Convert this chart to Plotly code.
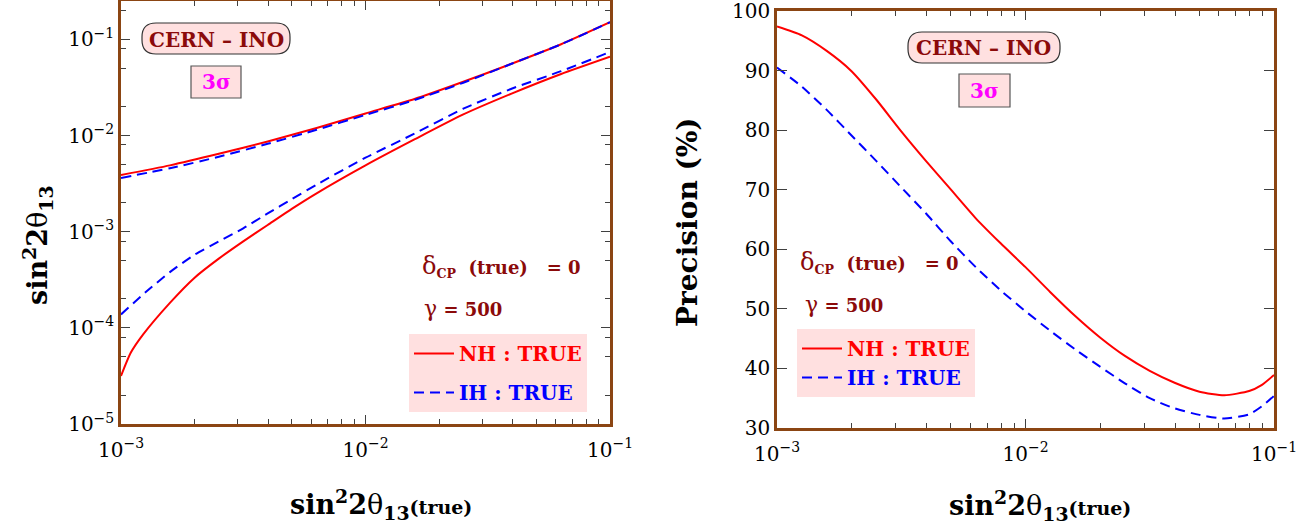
import plotly.graph_objects as go

# ---------------- data ----------------
# Left panel: 3-sigma allowed range of sin^2(2theta13) vs true value
x_upper = [0.001, 0.001585, 0.002512, 0.003981, 0.00631, 0.01, 0.01585, 0.02512, 0.03981, 0.0631, 0.1]
nh_upper = [0.00389, 0.0049, 0.00646, 0.0087, 0.0120, 0.0170, 0.0240, 0.0363, 0.0562, 0.0891, 0.151]
ih_upper = [0.00363, 0.00457, 0.00603, 0.00822, 0.01148, 0.0164, 0.0234, 0.0355, 0.0562, 0.0891, 0.151]

x_nh_lower = [0.001, 0.001096, 0.00123, 0.001585, 0.001995, 0.002512, 0.003162, 0.003981, 0.005012,
              0.00631, 0.01, 0.01585, 0.02512, 0.03981, 0.0631, 0.1]
nh_lower = [3.16e-5, 5.5e-5, 8.5e-5, 1.82e-4, 3.31e-4, 5.25e-4, 7.94e-4, 1.175e-3, 1.74e-3,
            2.51e-3, 4.90e-3, 9.12e-3, 1.66e-2, 2.75e-2, 4.37e-2, 6.61e-2]

x_ih_lower = [0.001, 0.001259, 0.001585, 0.001995, 0.002512, 0.003162, 0.003981, 0.005012, 0.00631,
              0.01, 0.01585, 0.02512, 0.03981, 0.0631, 0.1]
ih_lower = [1.38e-4, 2.34e-4, 3.80e-4, 5.75e-4, 7.94e-4, 1.084e-3, 1.55e-3, 2.19e-3, 3.09e-3,
            5.89e-3, 1.047e-2, 1.905e-2, 3.09e-2, 4.68e-2, 7.41e-2]

# Right panel: precision (%)
x_prec = [0.001, 0.001259, 0.001585, 0.001995, 0.002512, 0.003162, 0.003981, 0.005012, 0.00631,
          0.007943, 0.01, 0.01259, 0.01585, 0.01995, 0.02512, 0.03162, 0.03981, 0.05012, 0.0631,
          0.07943, 0.0891, 0.1]
nh_prec = [97.4, 95.9, 93.3, 89.9, 85.1, 79.8, 74.8, 70.0, 65.2, 61.0, 57.0, 52.8, 48.8, 45.2,
           42.1, 39.6, 37.6, 36.1, 35.5, 36.2, 37.2, 38.9]
ih_prec = [90.5, 87.3, 83.4, 79.1, 74.8, 70.4, 66.0, 61.3, 57.0, 53.1, 49.6, 46.3, 43.2, 40.3,
           37.5, 35.0, 33.3, 32.2, 31.6, 32.3, 33.6, 35.4]

x_tickvals = [0.001, 0.01, 0.1]
x_ticktext = ["10<sup>\u22123</sup>", "10<sup>\u22122</sup>", "10<sup>\u22121</sup>"]
x_minor = [2e-3, 3e-3, 4e-3, 5e-3, 6e-3, 7e-3, 8e-3, 9e-3,
           2e-2, 3e-2, 4e-2, 5e-2, 6e-2, 7e-2, 8e-2, 9e-2]
y_tickvals = [1e-5, 1e-4, 1e-3, 1e-2, 1e-1]
y_ticktext = ["10<sup>\u22125</sup>", "10<sup>\u22124</sup>", "10<sup>\u22123</sup>",
              "10<sup>\u22122</sup>", "10<sup>\u22121</sup>"]
y_minor = [2e-5, 5e-5, 8e-5, 2e-4, 5e-4, 8e-4, 2e-3, 5e-3, 8e-3, 2e-2, 5e-2, 8e-2, 2e-1]
prec_ticks = [30, 40, 50, 60, 70, 80, 90, 100]

# ---------------- styling ----------------
W, H = 1302, 531
FONT = "DejaVu Serif"
RED = "#FF0000"
BLUE = "#0000FF"
DARKRED = "#8B0A0A"
FRAME = "#8B4513"
TICK = "#404040"
PINK = "#FFE0E0"


def px(x):
    return x / W


def py(y):
    return 1 - y / H


fig = go.Figure()

nh_name = "<b><span style='color:#FF0000'>NH : TRUE</span></b>"
ih_name = "<b><span style='color:#0000FF'>IH : TRUE</span></b>"
DASH = "10px,6px"

# left panel traces
fig.add_trace(go.Scatter(x=x_upper, y=nh_upper, mode="lines", line=dict(color=RED, width=2),
                         name=nh_name, legendgroup="nhL", showlegend=True, legend="legend",
                         xaxis="x", yaxis="y", line_shape="spline", line_smoothing=0.6))
fig.add_trace(go.Scatter(x=x_nh_lower, y=nh_lower, mode="lines", line=dict(color=RED, width=2),
                         name=nh_name, legendgroup="nhL", showlegend=False, legend="legend",
                         xaxis="x", yaxis="y", line_shape="spline", line_smoothing=0.6))
fig.add_trace(go.Scatter(x=x_upper, y=ih_upper, mode="lines",
                         line=dict(color=BLUE, width=2, dash=DASH),
                         name=ih_name, legendgroup="ihL", showlegend=True, legend="legend",
                         xaxis="x", yaxis="y", line_shape="spline", line_smoothing=0.6))
fig.add_trace(go.Scatter(x=x_ih_lower, y=ih_lower, mode="lines",
                         line=dict(color=BLUE, width=2, dash=DASH),
                         name=ih_name, legendgroup="ihL", showlegend=False, legend="legend",
                         xaxis="x", yaxis="y", line_shape="spline", line_smoothing=0.6))

# right panel traces
fig.add_trace(go.Scatter(x=x_prec, y=nh_prec, mode="lines", line=dict(color=RED, width=2),
                         name=nh_name, legend="legend2", xaxis="x2", yaxis="y2",
                         line_shape="spline", line_smoothing=0.6))
fig.add_trace(go.Scatter(x=x_prec, y=ih_prec, mode="lines",
                         line=dict(color=BLUE, width=2, dash=DASH),
                         name=ih_name, legend="legend2", xaxis="x2", yaxis="y2",
                         line_shape="spline", line_smoothing=0.6))

axis_common = dict(showline=True, linecolor=FRAME, linewidth=2.5, mirror="allticks",
                   ticks="inside", tickcolor=TICK, tickwidth=1, showgrid=False, zeroline=False,
                   automargin=False, ticklabeloverflow="allow",
                   tickfont=dict(family=FONT, size=20, color="black"))

fig.update_layout(
    width=W, height=H,
    margin=dict(l=0, r=0, t=0, b=0, autoexpand=False),
    paper_bgcolor="white", plot_bgcolor="white",
    font=dict(family=FONT, color="black"),
    xaxis=dict(axis_common, type="log", range=[-3, -1], domain=[px(121), px(610)],
               tickvals=x_tickvals, ticktext=x_ticktext, ticklen=9, ticklabelstandoff=6,
               minor=dict(tickvals=x_minor, ticks="inside", ticklen=5, tickcolor=TICK),
               anchor="y"),
    yaxis=dict(axis_common, type="log", range=[-5, -0.6], domain=[py(424), py(1)],
               tickvals=y_tickvals, ticktext=y_ticktext, ticklen=9,
               minor=dict(tickvals=y_minor, ticks="inside", ticklen=5, tickcolor=TICK),
               anchor="x"),
    xaxis2=dict(axis_common, type="log", range=[-3, -1], domain=[px(777), px(1274)],
                tickvals=x_tickvals, ticktext=x_ticktext, ticklen=9, ticklabelstandoff=6,
                minor=dict(tickvals=x_minor, ticks="inside", ticklen=5, tickcolor=TICK),
                anchor="y2"),
    yaxis2=dict(axis_common, range=[30, 100], domain=[py(428), py(11)],
                tickvals=prec_ticks, ticklen=10,
                anchor="x2"),
    legend=dict(x=px(409), y=py(334), xanchor="left", yanchor="top", bgcolor=PINK,
                borderwidth=0, font=dict(family=FONT, size=20), itemwidth=40),
    legend2=dict(x=px(797), y=py(329), xanchor="left", yanchor="top", bgcolor=PINK,
                 borderwidth=0, font=dict(family=FONT, size=20), itemwidth=40),
)

# axis titles (placed as paper annotations for exact positioning)
xtitle = ("<b>sin<sup>2</sup>2</b>\u03b8<b><sub>13</sub></b>"
          "<span style='font-size:19px'><b>(true)</b></span>")
ytitle_left = "<b>sin<sup>2</sup>2</b>\u03b8<b><sub>13</sub></b>"
titles = [
    dict(text=xtitle, x=381, y=504, angle=0, size=27),
    dict(text=xtitle, x=1040, y=505, angle=0, size=27),
    dict(text=ytitle_left, x=38, y=245, angle=-90, size=27),
    dict(text="<b>Precision (%)</b>", x=688, y=222, angle=-90, size=28),
]
for t in titles:
    fig.add_annotation(x=px(t["x"]), y=py(t["y"]), xref="paper", yref="paper",
                       xanchor="center", yanchor="middle", textangle=t["angle"],
                       text=t["text"], showarrow=False,
                       font=dict(family=FONT, size=t["size"], color="black"))


def rounded_box(x0, y0, x1, y1, r):
    # pixel box -> paper-coordinate path with rounded corners
    def P(x, y):
        return f"{px(x):.5f},{py(y):.5f}"
    return (f"M {P(x0 + r, y0)} L {P(x1 - r, y0)} Q {P(x1, y0)} {P(x1, y0 + r)} "
            f"L {P(x1, y1 - r)} Q {P(x1, y1)} {P(x1 - r, y1)} L {P(x0 + r, y1)} "
            f"Q {P(x0, y1)} {P(x0, y1 - r)} L {P(x0, y0 + r)} Q {P(x0, y0)} {P(x0 + r, y0)} Z")


panels = [
    dict(cern=(142, 23, 290, 54), sig=(191, 66, 241, 98), delta=(420, 266), gamma=(422, 308)),
    dict(cern=(908, 32, 1060, 63), sig=(959, 74, 1010, 107), delta=(798, 262), gamma=(803, 304)),
]

for p in panels:
    x0, y0, x1, y1 = p["cern"]
    fig.add_shape(type="path", xref="paper", yref="paper", path=rounded_box(x0, y0, x1, y1, 14),
                  fillcolor=PINK, line=dict(color="#333333", width=1.2), layer="above")
    fig.add_annotation(x=px((x0 + x1) / 2), y=py((y0 + y1) / 2 + 1), xref="paper", yref="paper",
                       xanchor="center", yanchor="middle",
                       text="<b>CERN \u2013 INO</b>", showarrow=False,
                       font=dict(family=FONT, size=20, color=DARKRED))
    sx0, sy0, sx1, sy1 = p["sig"]
    fig.add_shape(type="rect", xref="paper", yref="paper", x0=px(sx0), x1=px(sx1),
                  y0=py(sy0), y1=py(sy1), fillcolor=PINK, line=dict(color="#555555", width=1.2),
                  layer="above")
    fig.add_annotation(x=px((sx0 + sx1) / 2), y=py((sy0 + sy1) / 2), xref="paper", yref="paper",
                       xanchor="center", yanchor="middle",
                       text="<b>3\u03c3</b>", showarrow=False,
                       font=dict(family=FONT, size=20, color="#FF00FF"))
    dx, dy = p["delta"]
    fig.add_annotation(x=px(dx), y=py(dy), xref="paper", yref="paper", xanchor="left",
                       yanchor="middle",
                       text="<span style='font-size:24px'>\u03b4</span><b><sub>CP</sub>"
                            "\u00a0 (true)\u00a0\u00a0 = 0</b>",
                       showarrow=False, font=dict(family=FONT, size=18, color=DARKRED))
    gx, gy = p["gamma"]
    fig.add_annotation(x=px(gx), y=py(gy), xref="paper", yref="paper", xanchor="left",
                       yanchor="middle",
                       text="<span style='font-size:22px'>\u03b3</span><b> = 500</b>",
                       showarrow=False, font=dict(family=FONT, size=18, color=DARKRED))

fig.write_html(
    "out.html",
    config={"displayModeBar": False},
    post_script="document.documentElement.style.margin='0';document.body.style.margin='0';"
                "document.body.style.overflow='hidden';",
)
